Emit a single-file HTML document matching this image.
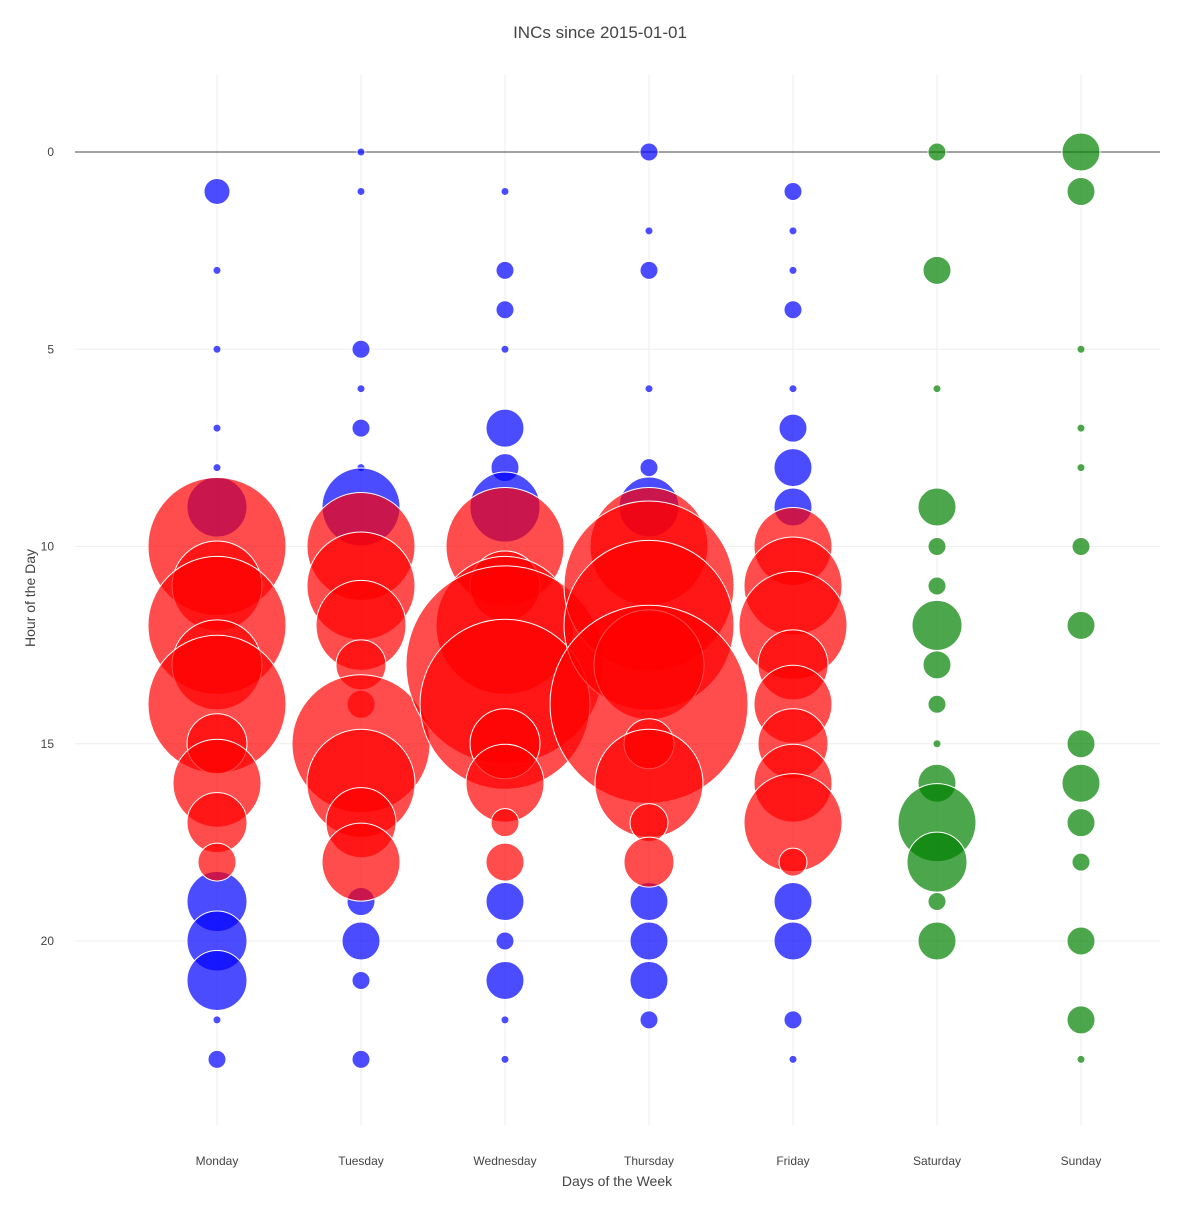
<!DOCTYPE html>
<html><head><meta charset="utf-8"><style>body{margin:0;background:#fff}</style></head><body>
<svg id="s" width="1200" height="1200" xmlns="http://www.w3.org/2000/svg" font-family="'Liberation Sans', sans-serif">
<rect width="1200" height="1200" fill="#fff"/>
<g id="grid" stroke="#eee" stroke-width="1"></g>
<line x1="75" x2="1160" y1="152" y2="152" stroke="#444" stroke-width="1"/>
<g id="pts" stroke="#fff" stroke-width="1"></g>
<g id="lab" fill="#444" font-size="12"></g>
<text x="600" y="38" text-anchor="middle" font-size="17" fill="#444">INCs since 2015-01-01</text>
<text x="617" y="1186" text-anchor="middle" font-size="14" fill="#444">Days of the Week</text>
<text x="35" y="598" text-anchor="middle" font-size="14" fill="#444" transform="rotate(-90 35 598)">Hour of the Day</text>
</svg>
<script>
const NS="http://www.w3.org/2000/svg";
function el(p,t,a,txt){const e=document.createElementNS(NS,t);for(const k in a)e.setAttribute(k,a[k]);if(txt!=null)e.textContent=txt;document.getElementById(p).appendChild(e);}
const days=["Monday","Tuesday","Wednesday","Thursday","Friday","Saturday","Sunday"];
const X=d=>217+144*d, Y=h=>152+h*39.45;
days.forEach((d,i)=>{el("grid","line",{x1:X(i),x2:X(i),y1:75,y2:1125});el("lab","text",{x:X(i),y:1165,"text-anchor":"middle"},d);});
[5,10,15,20].forEach(h=>el("grid","line",{x1:75,x2:1160,y1:Y(h),y2:Y(h)}));
[0,5,10,15,20].forEach(h=>el("lab","text",{x:54,y:Y(h)+4,"text-anchor":"end"},h));
const B={0:[[1,13],[3,4],[5,4],[7,4],[8,4],[9,30],[19,30],[20,30],[21,30],[22,4],[23,9]],
1:[[0,4],[1,4],[5,9],[6,4],[7,9],[8,4],[9,39],[19,14],[20,19],[21,9],[23,9]],
2:[[1,4],[3,9],[4,9],[5,4],[7,19],[8,14],[9,35],[19,19],[20,9],[21,19],[22,4],[23,4]],
3:[[0,9],[2,4],[3,9],[6,4],[8,9],[9,30],[19,19],[20,19],[21,19],[22,9]],
4:[[1,9],[2,4],[3,4],[4,9],[6,4],[7,14],[8,19],[9,19],[19,19],[20,19],[22,9],[23,4]]};
const R={0:[[10,69],[11,45],[12,69],[13,45],[14,69],[15,30],[16,44],[17,30],[18,19]],
1:[[10,54],[11,54],[12,45],[13,25],[14,14],[15,69],[16,54],[17,35],[18,39]],
2:[[10,59],[11,35],[12,69],[13,99],[14,85],[15,35],[16,39],[17,14],[18,19]],
3:[[10,59],[11,85],[12,85],[13,55],[14,99],[15,25],[16,54],[17,19],[18,25]],
4:[[10,39],[11,49],[12,54],[13,35],[14,39],[15,35],[16,39],[17,49],[18,14]]};
const G={5:[[0,9],[3,14],[6,4],[9,19],[10,9],[11,9],[12,25],[13,14],[14,9],[15,4],[16,19],[17,39],[18,30],[19,9],[20,19]],
6:[[0,19],[1,14],[5,4],[7,4],[8,4],[10,9],[12,14],[15,14],[16,19],[17,14],[18,9],[20,14],[22,14],[23,4]]};
function draw(set,col){for(const d in set)set[d].forEach(([h,r])=>el("pts","circle",{cx:X(+d),cy:Y(h),r:r,fill:col}));}
draw(B,"rgba(0,0,255,0.7)");draw(R,"rgba(255,0,0,0.7)");draw(G,"rgba(0,128,0,0.7)");
</script>
</body></html>
